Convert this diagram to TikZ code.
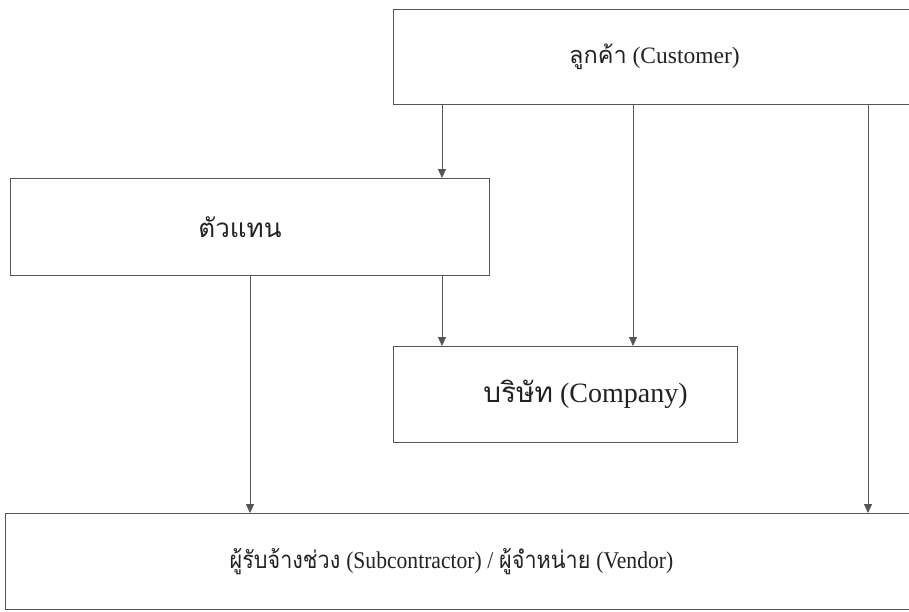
\documentclass[tikz,border=0pt]{standalone}
\usepackage{fontspec}
\setmainfont{Liberation Serif}
\newfontfamily\thaifont[Script=Thai]{Loma}
\newfontfamily\condserif[FakeStretch=0.9]{Liberation Serif}
\newfontfamily\condthai[Script=Thai,FakeStretch=0.9]{Loma}
\usetikzlibrary{arrows.meta}
\definecolor{linec}{HTML}{555555}
\definecolor{txtc}{HTML}{222222}
\tikzset{
  box/.style={draw=linec, line width=0.9pt, rectangle, inner sep=0pt, text=txtc, anchor=north west},
  arr/.style={draw=linec, line width=0.8pt, -{Triangle[length=9pt,width=8pt]}},
}
\begin{document}
\begin{tikzpicture}[x=1pt,y=-1pt]
\useasboundingbox (0,0) rectangle (909,611);
\node[box, minimum width=518pt, minimum height=95pt] (cust) at (393,9)
  {\hspace*{4pt}\fontsize{23.5}{28}\selectfont {\thaifont ลูกค้า} (Customer)};
\node[box, minimum width=479pt, minimum height=97pt] (agent) at (10,178)
  {\hspace*{-20pt}\fontsize{26}{30}\selectfont\thaifont ตัวแทน};
\node[box, minimum width=344pt, minimum height=96pt] (comp) at (393,346)
  {\hspace*{40pt}\fontsize{28}{32}\selectfont {\thaifont บริษัท} (Company)};
\node[box, minimum width=907pt, minimum height=96pt] (vend) at (5,513)
  {\hspace*{-15pt}\fontsize{24}{30}\selectfont {\condthai ผู้รับจ้างช่วง} {\condserif (Subcontractor) /} {\condthai ผู้จำหน่าย} {\condserif (Vendor)}};
\draw[arr] ([xshift=49pt]cust.south west) -- ([xshift=49pt]cust.south west |- agent.north);
\draw[arr] ([xshift=240pt]cust.south west) -- ([xshift=240pt]cust.south west |- comp.north);
\draw[arr] ([xshift=475pt]cust.south west) -- ([xshift=475pt]cust.south west |- vend.north);
\draw[arr] ([xshift=432pt]agent.south west) -- ([xshift=432pt]agent.south west |- comp.north);
\draw[arr] ([xshift=240pt]agent.south west) -- ([xshift=240pt]agent.south west |- vend.north);
\end{tikzpicture}
\end{document}
